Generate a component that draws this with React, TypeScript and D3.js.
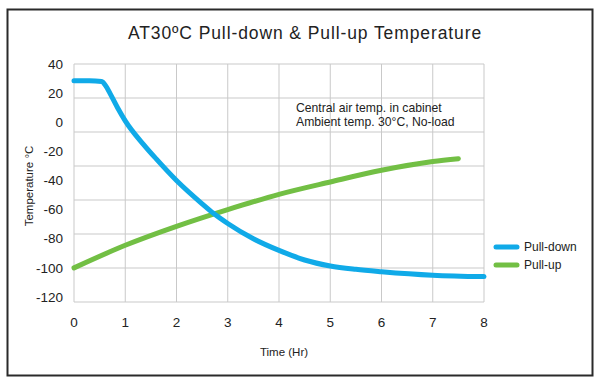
import React from "react";
import * as d3 from "d3";

const title = "AT30ºC Pull-down & Pull-up Temperature";
const xTicks = [0, 1, 2, 3, 4, 5, 6, 7, 8];
const yTicks = [40, 20, 0, -20, -40, -60, -80, -100, -120];

const pullDownTime = [0, 0.3, 0.54, 0.62, 0.7, 0.85, 1, 1.35, 1.6, 2, 2.5, 2.72, 3, 3.5, 4, 4.5, 5, 5.5, 6, 7, 8];
const pullDownTemp = [28.5, 28.5, 28, 25, 20, 10, 1, -15, -25, -40, -56, -62.5, -69.5, -80, -88, -94.6, -98.7, -101, -102.6, -105, -106];

const pullUpTime = [0, 1, 2, 3, 4, 5, 6, 7, 7.5];
const pullUpTemp = [-100, -84.5, -71.5, -60, -49.5, -41, -33, -27, -25];

const seriesNames = ["Pull-down", "Pull-up"];
const colors = ["#10aae8", "#72bf44"];

const noteLines = ["Central air temp. in cabinet", "Ambient temp. 30\u00B0C, No-load"];

export default function App() {
  const W = 606, H = 382;
  const left = 74, right = 484, top = 64, bottom = 302;
  const x = d3.scaleLinear().domain([0, 8]).range([left, right]);
  const y = d3.scaleLinear().domain([-120, 40]).range([297, top]);
  const gridY = d3.scaleLinear().domain([0, 7]).range([bottom, top]);

  const line = d3
    .line<[number, number]>()
    .x((d) => x(d[0]))
    .y((d) => y(d[1]))
    .curve(d3.curveMonotoneX);

  const down: [number, number][] = pullDownTime.map((t, i) => [t, pullDownTemp[i]]);
  const up: [number, number][] = pullUpTime.map((t, i) => [t, pullUpTemp[i]]);

  const font = "Liberation Sans, Arial, sans-serif";

  return (
    <svg
      width={W}
      height={H}
      style={{ position: "absolute", left: 0, top: 0, background: "#fff" }}
      fontFamily={font}
    >
      <rect x={7.5} y={9.5} width={585} height={366} fill="#fff" stroke="#2a2a2a" strokeWidth={2} />
      <text x={305} y={39} textAnchor="middle" fontSize={17.5} fill="#222" letterSpacing={0.9}>
        {title}
      </text>

      {/* grid */}
      {d3.range(8).map((i) => (
        <line key={"h" + i} x1={left} x2={right} y1={gridY(i)} y2={gridY(i)} stroke="#c9c9c9" strokeWidth={1} />
      ))}
      {xTicks.map((t) => (
        <line key={"v" + t} x1={x(t)} x2={x(t)} y1={top} y2={bottom} stroke="#c9c9c9" strokeWidth={1} />
      ))}

      {/* y tick labels */}
      {yTicks.map((v) => (
        <text key={"yl" + v} x={63} y={y(v)} dy="0.35em" textAnchor="end" fontSize={13.5} fill="#222">
          {v}
        </text>
      ))}
      {xTicks.map((t) => (
        <text key={"xl" + t} x={x(t)} y={322} dy="0.35em" textAnchor="middle" fontSize={13.5} fill="#222">
          {t}
        </text>
      ))}

      <text x={284} y={352} dy="0.35em" textAnchor="middle" fontSize={11.5} fill="#222">
        Time (Hr)
      </text>
      <text
        transform={`translate(29,186) rotate(-90)`}
        textAnchor="middle"
        dy="0.35em"
        fontSize={11.5}
        fill="#222"
      >
        Temperature °C
      </text>

      {/* note */}
      {noteLines.map((s, i) => (
        <text key={s} x={296} y={112 + i * 14} fontSize={12.2} fill="#222">
          {s}
        </text>
      ))}

      {/* lines */}
      <path d={line(up) || ""} fill="none" stroke={colors[1]} strokeWidth={5} strokeLinecap="round" />
      <path d={line(down) || ""} fill="none" stroke={colors[0]} strokeWidth={5} strokeLinecap="round" />

      {/* legend */}
      {seriesNames.map((n, i) => (
        <g key={n} transform={`translate(0,${247 + i * 18})`}>
          <line x1={496} x2={517} y1={0} y2={0} stroke={colors[i]} strokeWidth={5} strokeLinecap="round" />
          <text x={524} y={0} dy="0.35em" fontSize={12} fill="#222">
            {n}
          </text>
        </g>
      ))}
    </svg>
  );
}
